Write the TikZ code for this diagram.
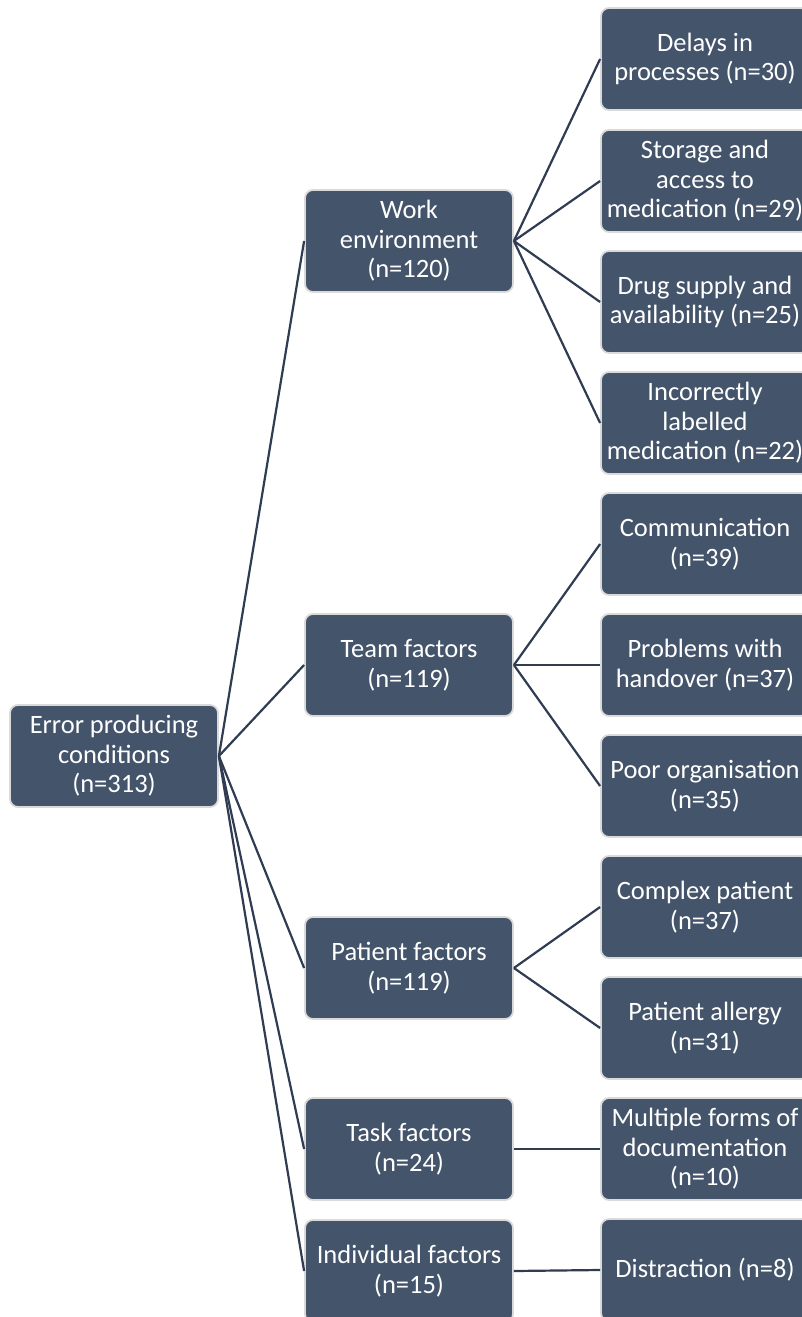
\documentclass[tikz,border=0pt]{standalone}
\usepackage{fontspec}
\setmainfont{Carlito}
\definecolor{boxfill}{HTML}{44546A}
\definecolor{boxedge}{HTML}{DADADA}
\definecolor{linec}{HTML}{2F3C52}
\begin{document}
\begin{tikzpicture}[x=1pt,y=-1pt,
  box/.style={draw=boxedge, line width=1.8pt, fill=boxfill, rounded corners=8pt,
    minimum width=208pt, minimum height=102pt, text=white, align=center,
    inner sep=2pt, font=\fontsize{26.5}{29.5}\selectfont},
  conn/.style={draw=linec, line width=2.2pt}]
\useasboundingbox (0,0) rectangle (801,1317);
\node[box] (root) at (114,756) {Error producing\\conditions\\(n=313)};
\node[box] (work) at (409,241) {Work\\environment\\(n=120)};
\node[box] (team) at (409,665) {Team factors\\(n=119)};
\node[box] (pat) at (409,968) {Patient factors\\(n=119)};
\node[box] (task) at (409,1149) {Task factors\\(n=24)};
\node[box] (ind) at (409,1271) {Individual factors\\(n=15)};
\node[box] (d1) at (705,59) {Delays in\\processes (n=30)};
\node[box] (d2) at (705,181) {Storage and\\access to\\medication (n=29)};
\node[box] (d3) at (705,302) {Drug supply and\\availability (n=25)};
\node[box] (d4) at (705,423) {Incorrectly\\labelled\\medication (n=22)};
\node[box] (t1) at (705,544) {Communication\\(n=39)};
\node[box] (t2) at (705,665) {Problems with\\handover (n=37)};
\node[box] (t3) at (705,786) {Poor organisation\\(n=35)};
\node[box] (p1) at (705,907) {Complex patient\\(n=37)};
\node[box] (p2) at (705,1028) {Patient allergy\\(n=31)};
\node[box] (k1) at (705,1149) {Multiple forms of\\documentation\\(n=10)};
\node[box] (i1) at (705,1270) {Distraction (n=8)};
\foreach \n in {work,team,pat,task,ind} \path[conn] (root.east) -- (\n.west);
\foreach \n in {d1,d2,d3,d4} \path[conn] (work.east) -- (\n.west);
\foreach \n in {t1,t2,t3} \path[conn] (team.east) -- (\n.west);
\foreach \n in {p1,p2} \path[conn] (pat.east) -- (\n.west);
\path[conn] (task.east) -- (k1.west);
\path[conn] (ind.east) -- (i1.west);
\end{tikzpicture}
\end{document}
